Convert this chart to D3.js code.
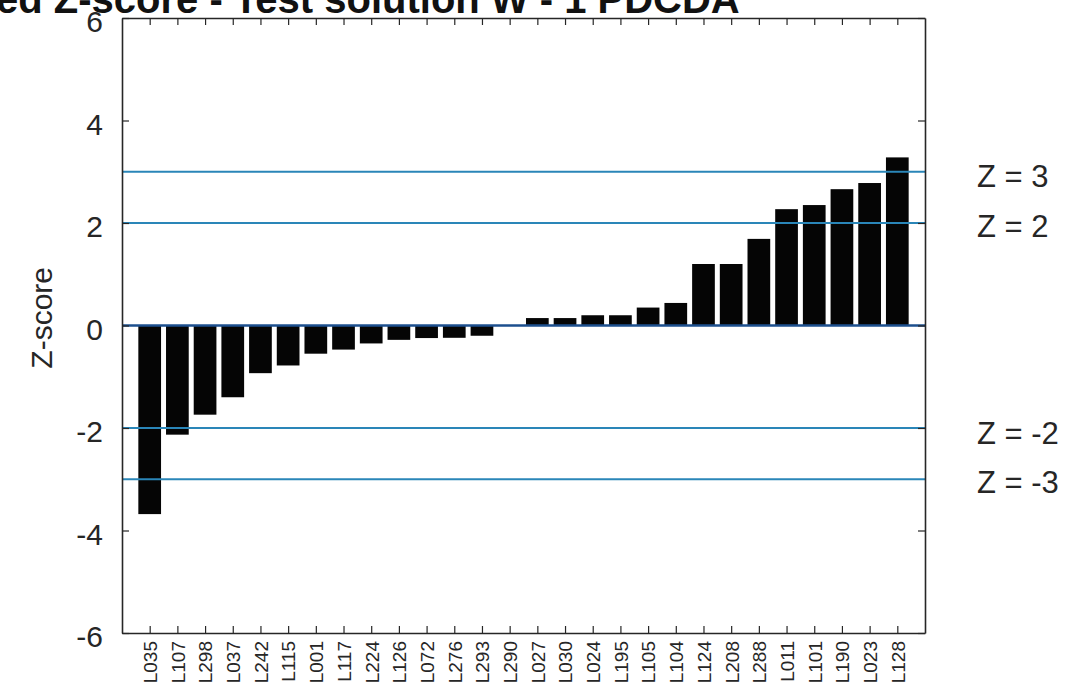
<!DOCTYPE html>
<html>
<head>
<meta charset="utf-8">
<script src="https://cdn.jsdelivr.net/npm/d3@7"></script>
<style>
  body { margin:0; background:#fff; }
  text { font-family: "Liberation Sans", Arial, sans-serif; }
</style>
</head>
<body>
<div class="chart_bar"></div>
<script>
// data
var categories = ["L035","L107","L298","L037","L242","L115","L001","L117","L224","L126",
  "L072","L276","L293","L290","L027","L030","L024","L195","L105","L104",
  "L124","L208","L288","L011","L101","L190","L023","L128"];
var zValues = [-3.68,-2.13,-1.74,-1.40,-0.93,-0.78,-0.55,-0.47,-0.35,-0.28,
  -0.245,-0.24,-0.20,0.0,0.145,0.145,0.20,0.20,0.35,0.44,
  1.20,1.20,1.69,2.27,2.35,2.66,2.78,3.28];
var yTicks = [-6,-4,-2,0,2,4,6];
var refLines = [3,2,-2,-3];
var refLabels = ["Z = 3","Z = 2","Z = -2","Z = -3"];
var refLabelAt = [2.92,1.94,-2.1,-3.05];

function mainChart(){
  var W = 1072, H = 690;
  var margin = {top:18, right:147, bottom:57, left:122}
    , width = W - margin.left - margin.right
    , height = H - margin.top - margin.bottom;
  var n = categories.length;
  var ink = "#262626";

  var svg = d3.select(".chart_bar").append("svg")
    .attr("width", W).attr("height", H);

  // title (its top is cut off by the picture edge, as in the original)
  svg.append("text")
    .attr("x", -4).attr("y", 13)
    .attr("font-size", "40px").attr("font-weight", "bold")
    .attr("fill", "#111")
    .text("ed Z-score - Test solution W - 1 PDCDA");

  var g = svg.append("g")
    .attr("transform", "translate(" + margin.left + "," + margin.top + ")");

  var xScale = d3.scaleLinear().domain([0, n + 1]).range([0, width]);
  var yScale = d3.scaleLinear().domain([-6, 6]).range([height, 0]);
  var barW = (xScale(1) - xScale(0)) * 0.82;

  // bars
  g.selectAll(".bar")
    .data(zValues)
    .enter().append("rect")
    .attr("class", "bar")
    .attr("x", function(d, i){ return xScale(i + 1) - barW / 2; })
    .attr("y", function(d){ return yScale(Math.max(0, d)); })
    .attr("width", barW)
    .attr("height", function(d){ return Math.abs(yScale(d) - yScale(0)); })
    .attr("fill", "#050505");

  // reference lines
  g.selectAll(".ref")
    .data(refLines)
    .enter().append("line")
    .attr("class", "ref")
    .attr("x1", 0).attr("x2", width)
    .attr("y1", function(d){ return yScale(d); })
    .attr("y2", function(d){ return yScale(d); })
    .attr("stroke", "#2a86b8").attr("stroke-width", 2);

  g.append("line")
    .attr("x1", 0).attr("x2", width)
    .attr("y1", yScale(0)).attr("y2", yScale(0))
    .attr("stroke", "#1c4f8e").attr("stroke-width", 2.5);

  // axes (box with inward ticks)
  var tickLen = 7;
  var xAxisBottom = g.append("g")
    .attr("class", "x axis")
    .attr("transform", "translate(0," + height + ")")
    .call(d3.axisBottom(xScale).tickValues(d3.range(1, n + 1))
      .tickSizeInner(-tickLen).tickSizeOuter(0).tickFormat(function(d){ return categories[d - 1]; }));
  xAxisBottom.selectAll("text")
    .attr("transform", "rotate(-90)")
    .attr("text-anchor", "end")
    .attr("x", -8).attr("y", 0).attr("dy", "0.36em")
    .attr("font-size", "19px").attr("fill", ink);

  g.append("g")
    .call(d3.axisTop(xScale).tickValues(d3.range(1, n + 1))
      .tickSizeInner(-tickLen).tickSizeOuter(0).tickFormat(""));

  var yAxis = g.append("g")
    .attr("class", "y axis")
    .call(d3.axisLeft(yScale).tickValues(yTicks)
      .tickSizeInner(-tickLen).tickSizeOuter(0).tickPadding(19)
      .tickFormat(function(d){ return String(d); }));
  yAxis.selectAll("text")
    .attr("dy", "0.46em")
    .attr("font-size", "30px").attr("fill", ink);

  g.append("g")
    .attr("transform", "translate(" + width + ",0)")
    .call(d3.axisRight(yScale).tickValues(yTicks)
      .tickSizeInner(-tickLen).tickSizeOuter(0).tickFormat(""));

  g.selectAll(".domain").attr("stroke", ink).attr("stroke-width", 1.6);
  g.selectAll(".tick line").attr("stroke", ink).attr("stroke-width", 1.2);

  // y label
  svg.append("text")
    .attr("transform", "translate(52," + (margin.top + yScale(0.15)) + ") rotate(-90)")
    .attr("text-anchor", "middle")
    .attr("font-size", "30px").attr("fill", ink)
    .text("Z-score");

  // Z labels on the right
  svg.selectAll(".zlab")
    .data(refLabels)
    .enter().append("text")
    .attr("class", "zlab")
    .attr("x", margin.left + width + 52)
    .attr("y", function(d, i){ return margin.top + yScale(refLabelAt[i]); })
    .attr("dy", "0.36em")
    .attr("font-size", "31px").attr("fill", ink)
    .text(function(d){ return d; });
}
mainChart();
</script>
</body>
</html>
